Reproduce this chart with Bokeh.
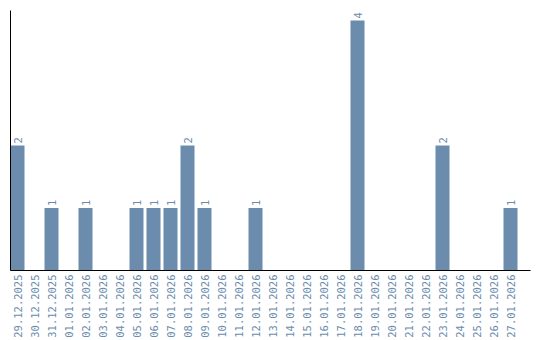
import math
from bokeh.plotting import figure
from bokeh.models import ColumnDataSource, FixedTicker, Range1d
from bokeh.core.properties import value
from bokeh.embed import file_html
from bokeh.resources import INLINE

dates = ["29.12.2025", "30.12.2025", "31.12.2025", "01.01.2026", "02.01.2026",
         "03.01.2026", "04.01.2026", "05.01.2026", "06.01.2026", "07.01.2026",
         "08.01.2026", "09.01.2026", "10.01.2026", "11.01.2026", "12.01.2026",
         "13.01.2026", "14.01.2026", "15.01.2026", "16.01.2026", "17.01.2026",
         "18.01.2026", "19.01.2026", "20.01.2026", "21.01.2026", "22.01.2026",
         "23.01.2026", "24.01.2026", "25.01.2026", "26.01.2026", "27.01.2026"]
counts = [2, 0, 1, 0, 1, 0, 0, 1, 1, 1, 2, 1, 0, 0, 1,
          0, 0, 0, 0, 0, 4, 0, 0, 0, 0, 2, 0, 0, 0, 1]

BLUE = "#6b8cad"
FONT = "DejaVu Sans Mono"

xs = list(range(len(dates)))
src = ColumnDataSource(dict(x=xs, top=counts))
lab = ColumnDataSource(dict(x=[x for x, c in zip(xs, counts) if c > 0],
                            y=[c for c in counts if c > 0],
                            t=[str(c) for c in counts if c > 0]))

p = figure(width=540, height=340, output_backend="svg", toolbar_location=None,
           x_range=Range1d(-7 / 17, -7 / 17 + 520 / 17), y_range=Range1d(0, 4.16),
           min_border_left=10, min_border_right=10, min_border_top=10, min_border_bottom=70)
p.outline_line_color = None
p.grid.visible = False
p.background_fill_color = "white"
p.border_fill_color = "white"

p.vbar(x="x", top="top", bottom=0, width=14 / 17, source=src, fill_color=BLUE, line_color=None)
p.text(x="x", y="y", text="t", source=lab, angle=math.pi / 2, text_align="left",
       text_baseline="middle", y_offset=-2, text_color=BLUE, text_font=value(FONT),
       text_font_size="10.5px")

xa = p.xaxis[0]
xa.ticker = FixedTicker(ticks=xs)
xa.major_label_overrides = {i: d for i, d in enumerate(dates)}
xa.major_label_orientation = math.pi / 2
xa.major_label_text_color = BLUE
xa.major_label_text_font = FONT
xa.major_label_text_font_size = "10.5px"
xa.major_label_standoff = 4
xa.major_tick_line_color = None
xa.minor_tick_line_color = None
xa.major_tick_out = 0
xa.axis_line_color = "black"

ya = p.yaxis[0]
ya.ticker = FixedTicker(ticks=[])
ya.major_tick_line_color = None
ya.minor_tick_line_color = None
ya.major_tick_out = 0
ya.major_label_standoff = 0
ya.axis_line_color = "black"

open("out.html", "w").write(file_html(p, INLINE))
